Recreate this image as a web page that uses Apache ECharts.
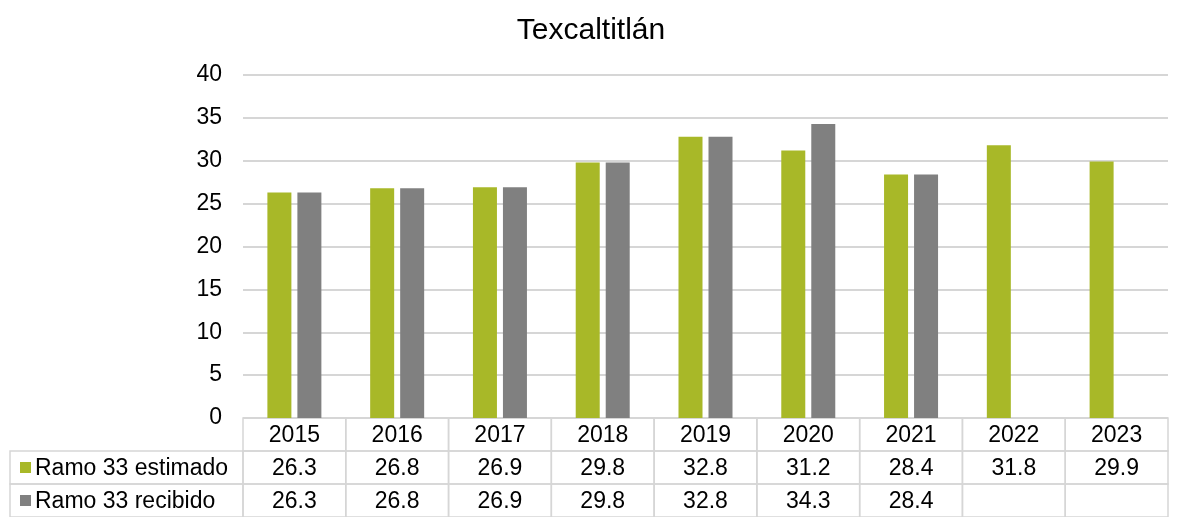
<!DOCTYPE html>
<html>
<head>
<meta charset="utf-8">
<script src="https://cdn.jsdelivr.net/npm/echarts@6/dist/echarts.min.js"></script>
<style>
  html, body { margin: 0; padding: 0; background: #fff; }
</style>
</head>
<body>
<div id="chart" style="width: 1182px; height: 517px;"></div>
<script>
// datos
const years = ['2015', '2016', '2017', '2018', '2019', '2020', '2021', '2022', '2023'];
const estimado = [26.3, 26.8, 26.9, 29.8, 32.8, 31.2, 28.4, 31.8, 29.9];
const recibido = [26.3, 26.8, 26.9, 29.8, 32.8, 34.3, 28.4, null, null];
const seriesNames = ['Ramo 33 estimado', 'Ramo 33 recibido'];
const yTicks = [0, 5, 10, 15, 20, 25, 30, 35, 40];

const GREEN = '#a8b828';
const GRAY = '#808080';
const LINE = '#d6d6d6';
const FONT = 'Liberation Sans, Arial, sans-serif';
const FS = 23;

const chart = echarts.init(document.getElementById('chart'));

// celdas de la tabla: [col, fila, texto]
const tableData = [];
years.forEach((y, i) => {
  tableData.push([i, 0, y]);
  tableData.push([i, 1, estimado[i] == null ? '' : estimado[i].toFixed(1)]);
  tableData.push([i, 2, recibido[i] == null ? '' : recibido[i].toFixed(1)]);
});
// etiquetas de fila (col -1)
tableData.push([-1, 1, seriesNames[0]]);
tableData.push([-1, 2, seriesNames[1]]);

const rowColors = [null, GREEN, GRAY];

const renderCell = (params, api) => {
  const col = api.value(0);
  const row = api.value(1);
  const text = tableData[params.dataIndex][2];
  const size = api.size([1, 1]);
  const w = size[0], h = size[1];
  if (col < 0) {
    const c = api.coord([0, row]);
    const x0 = 10;
    const x1 = params.coordSys.x;
    const yTop = c[1] - h / 2;
    return {
      type: 'group',
      children: [
        { type: 'rect', shape: { x: x0, y: yTop, width: x1 - x0, height: h },
          style: { fill: 'none', stroke: LINE, lineWidth: 1.5 } },
        { type: 'rect', shape: { x: 20, y: c[1] - 5.5, width: 11, height: 11 },
          style: { fill: rowColors[row] } },
        { type: 'text', x: 35, y: c[1] + 1,
          style: { text: text, font: FS + 'px ' + FONT, fill: '#000',
                   textAlign: 'left', textVerticalAlign: 'middle' } }
      ]
    };
  }
  const c = api.coord([col, row]);
  return {
    type: 'group',
    children: [
      { type: 'rect', shape: { x: c[0] - w / 2, y: c[1] - h / 2, width: w, height: h },
        style: { fill: 'none', stroke: LINE, lineWidth: 1.5 } },
      { type: 'text', x: c[0], y: c[1] + 1,
        style: { text: text, font: FS + 'px ' + FONT, fill: '#000',
                 textAlign: 'center', textVerticalAlign: 'middle' } }
    ]
  };
};

const option = {
  animation: false,
  title: {
    text: 'Texcaltitlán',
    left: 'center',
    top: 11,
    textStyle: { fontFamily: FONT, fontSize: 30, fontWeight: 'normal', color: '#000' }
  },
  grid: [
    { left: 243, right: 14, top: 75, height: 343 },
    { left: 243, right: 14, top: 418, height: 99 }
  ],
  xAxis: [
    { type: 'category', gridIndex: 0, data: years,
      axisLine: { show: false }, axisTick: { show: false }, axisLabel: { show: false } },
    { type: 'category', gridIndex: 1, data: years, show: false }
  ],
  yAxis: [
    { type: 'value', gridIndex: 0, min: yTicks[0], max: yTicks[yTicks.length - 1], interval: 5,
      axisLine: { show: false }, axisTick: { show: false },
      axisLabel: { fontFamily: FONT, fontSize: FS, color: '#000', margin: 21 },
      splitLine: { lineStyle: { color: LINE, width: 2 } } },
    { type: 'category', gridIndex: 1, data: ['h', 'e', 'r'], inverse: true, show: false }
  ],
  series: [
    { name: seriesNames[0], type: 'bar', xAxisIndex: 0, yAxisIndex: 0,
      data: estimado, barWidth: 24, barGap: '25%', itemStyle: { color: GREEN } },
    { name: seriesNames[1], type: 'bar', xAxisIndex: 0, yAxisIndex: 0,
      data: recibido, barWidth: 24, barGap: '25%', itemStyle: { color: GRAY } },
    { type: 'custom', xAxisIndex: 1, yAxisIndex: 1, clip: false,
      data: tableData, renderItem: renderCell }
  ]
};

chart.setOption(option);
</script>
</body>
</html>
